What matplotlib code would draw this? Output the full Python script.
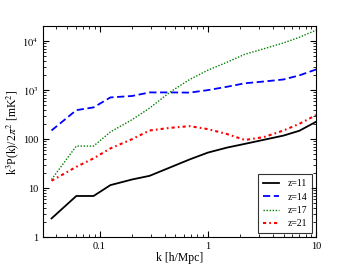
import matplotlib
matplotlib.use("Agg")
import matplotlib.pyplot as plt
from matplotlib.ticker import FixedLocator, FixedFormatter, LogLocator, NullFormatter

plt.rcParams['font.family'] = ['Liberation Serif', 'DejaVu Serif']
plt.rcParams['mathtext.fontset'] = 'stix'

k = [0.036, 0.061, 0.088, 0.126, 0.2, 0.29, 0.45, 0.68, 1.0, 1.5, 2.2, 3.3, 5.0, 7.0, 10.0]
z11 = [2.4, 6.9, 6.9, 11.5, 15.0, 17.8, 26.5, 38.5, 53, 67, 80, 97, 118, 148, 226]
z14 = [150, 390, 444, 710, 760, 898, 898, 890, 1000, 1170, 1380, 1500, 1650, 2000, 2640]
z17 = [15, 72, 72, 140, 250, 430, 920, 1650, 2550, 3700, 5400, 7000, 9200, 12000, 16800]
z21 = [14.1, 27.2, 40.4, 64.6, 100, 150, 170, 184, 160, 127, 96, 110, 150, 205, 309]
labels = ['z=11', 'z=14', 'z=17', 'z=21']

fig = plt.figure(figsize=(3.52, 2.64), dpi=100)
ax = fig.add_axes([0.122, 0.102, 0.776, 0.798])

ax.plot(k, z11, color='k', ls='-', lw=1.3, label=labels[0])
ax.plot(k, z14, color='b', ls=(0, (4, 2)), lw=1.3, label=labels[1])
ax.plot(k, z17, color='g', ls=(0, (1, 1.2)), lw=1.0, label=labels[2])
ax.plot(k, z21, color='r', ls=(0, (1.5, 1.5, 0.8, 1.5)), lw=1.5, label=labels[3])

ax.set_xscale('log')
ax.set_yscale('log')
ax.set_xlim(0.03, 10)
ax.set_ylim(1, 2e4)

ax.yaxis.set_major_locator(FixedLocator([1, 10, 100, 1000, 10000]))
ax.yaxis.set_major_formatter(FixedFormatter(['1', '10', '100', r'$10^3$', r'$10^4$']))
ax.yaxis.set_minor_locator(LogLocator(base=10, subs=range(2, 10)))
ax.yaxis.set_minor_formatter(NullFormatter())
ax.xaxis.set_major_locator(FixedLocator([0.1, 1, 10]))
ax.xaxis.set_major_formatter(FixedFormatter(['0.1', '1', '10']))
ax.xaxis.set_minor_locator(LogLocator(base=10, subs=range(2, 10)))
ax.xaxis.set_minor_formatter(NullFormatter())

ax.tick_params(which='both', direction='in', top=True, right=True, labelsize=7.5)
ax.tick_params(which='major', length=4)
ax.tick_params(which='minor', length=2)

ax.set_xlabel('k [h/Mpc]', fontsize=8.5, labelpad=1)
ax.set_ylabel(r'k$^3$P(k)/2$\pi^2$ [mK$^2$]', fontsize=8.5, labelpad=1)

leg = ax.legend(loc='lower right', fontsize=7, frameon=True, fancybox=False,
                edgecolor='k', handlelength=1.6, handletextpad=0.9, borderpad=0.5,
                labelspacing=0.45, borderaxespad=0.4)
leg.get_frame().set_linewidth(0.8)

fig.savefig('out.png', dpi=100)
